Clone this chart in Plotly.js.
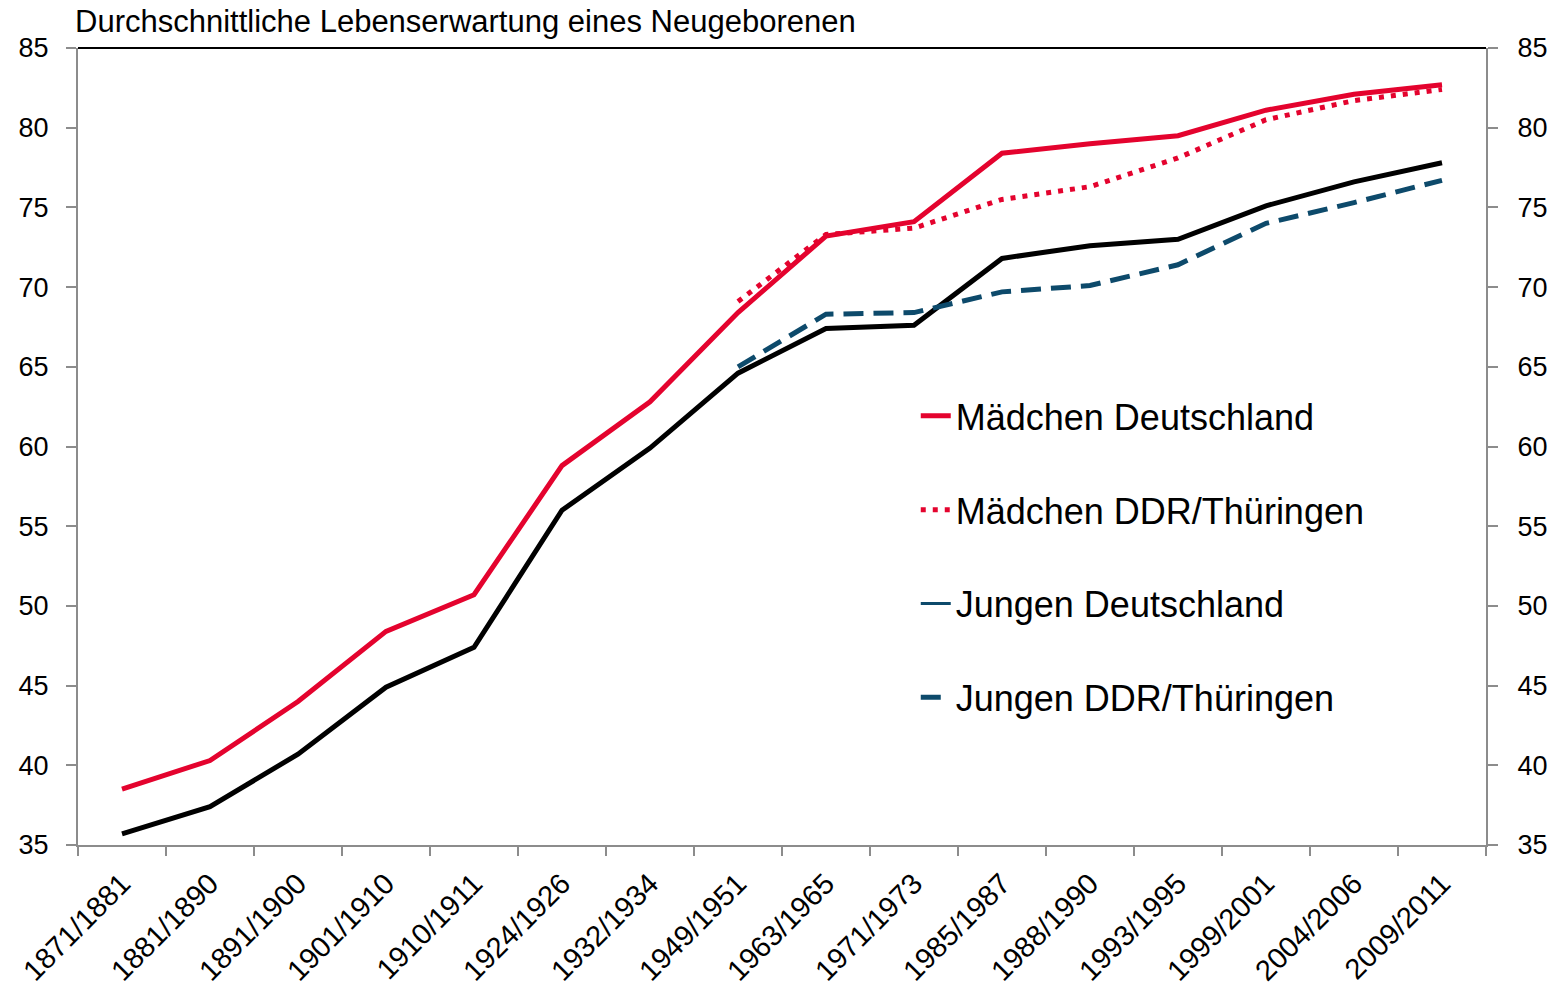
<!DOCTYPE html>
<html>
<head>
<meta charset="utf-8">
<script src="https://cdn.plot.ly/plotly-3.0.1.min.js"></script>
<style>html,body{margin:0;padding:0;background:#fff;}#chart{width:1566px;height:993px;}</style>
</head>
<body>
<div id="chart"></div>
<script>
const categories = ["1871/1881","1881/1890","1891/1900","1901/1910","1910/1911","1924/1926","1932/1934","1949/1951","1963/1965","1971/1973","1985/1987","1988/1990","1993/1995","1999/2001","2004/2006","2009/2011"];
const maedchenDeutschland = [38.5,40.3,44.0,48.4,50.7,58.8,62.8,68.4,73.2,74.1,78.4,79.0,79.5,81.1,82.1,82.7];
const maedchenDDR = [null,null,null,null,null,null,null,69.1,73.3,73.7,75.5,76.3,78.1,80.5,81.7,82.4];
const jungenDeutschland = [35.7,37.4,40.7,44.9,47.4,56.0,59.9,64.6,67.4,67.6,71.8,72.6,73.0,75.1,76.6,77.8];
const jungenDDR = [null,null,null,null,null,null,null,65.0,68.3,68.4,69.7,70.1,71.4,74.0,75.3,76.7];
const seriesNames = ["Mädchen Deutschland","Mädchen DDR/Thüringen","Jungen Deutschland","Jungen DDR/Thüringen"];
const chartTitle = "Durchschnittliche Lebenserwartung eines Neugeborenen";

const RED = "#e4032e";
const NAVY = "#0d4a6b";
const FONT = "Liberation Sans, Arial, sans-serif";

const traces = [
  {x: categories, y: jungenDeutschland, type: "scatter", mode: "lines", name: seriesNames[2],
   line: {color: "#000000", width: 5}, showlegend: false, hoverinfo: "skip"},
  {x: categories, y: jungenDDR, type: "scatter", mode: "lines", name: seriesNames[3],
   line: {color: NAVY, width: 5, dash: "20px,10px"}, legendrank: 4, legendgroup: "d"},
  {x: categories, y: maedchenDeutschland, type: "scatter", mode: "lines", name: seriesNames[0],
   line: {color: RED, width: 5}, legendrank: 1, legendgroup: "a"},
  {x: categories, y: maedchenDDR, type: "scatter", mode: "lines", name: seriesNames[1],
   line: {color: RED, width: 5, dash: "5px,7px"}, legendrank: 2, legendgroup: "b"},
  {x: [null], y: [null], type: "scatter", mode: "lines", name: seriesNames[2],
   line: {color: NAVY, width: 3}, legendrank: 3, legendgroup: "c", hoverinfo: "skip"},
  {x: [null], y: [null], type: "scatter", mode: "lines", yaxis: "y2", showlegend: false, hoverinfo: "skip"}
];

const yFont = {family: FONT, size: 27, color: "#000"};
const xFont = {family: FONT, size: 29, color: "#000"};

const layout = {
  width: 1566, height: 993,
  margin: {l: 78, r: 80, t: 48, b: 148},
  paper_bgcolor: "#fff", plot_bgcolor: "#fff",
  showlegend: true,
  title: {text: chartTitle, x: 75/1566, xanchor: "left", y: 1 - 21/993, yanchor: "middle",
          font: {family: FONT, size: 31, color: "#000"}},
  xaxis: {type: "category", range: [-0.5, 15.5], showgrid: false, zeroline: false,
          showline: true, linecolor: "#8c8c8c", linewidth: 2,
          ticks: "outside", tickson: "boundaries", ticklen: 9, tickcolor: "#8c8c8c", tickwidth: 2,
          tickangle: -45, tickfont: xFont, ticklabelstandoff: 8},
  yaxis: {range: [35, 85], dtick: 5, showgrid: false, zeroline: false,
          showline: true, linecolor: "#8c8c8c", linewidth: 2,
          ticks: "outside", ticklen: 10, tickcolor: "#8c8c8c", tickwidth: 2, tickfont: yFont,
          ticklabelstandoff: 12},
  yaxis2: {range: [35, 85], dtick: 5, overlaying: "y", side: "right", showgrid: false, zeroline: false,
           showline: true, linecolor: "#8c8c8c", linewidth: 2,
           ticks: "outside", ticklen: 10, tickcolor: "#8c8c8c", tickwidth: 2, tickfont: yFont,
           ticklabelstandoff: 14},
  legend: {x: 0.595, xanchor: "left", y: 0.576, yanchor: "top", traceorder: "grouped",
           tracegroupgap: 44, bgcolor: "rgba(0,0,0,0)",
           font: {family: FONT, size: 36, color: "#000"}},
  shapes: [{type: "line", xref: "paper", yref: "paper", x0: 0, x1: 1, y0: 1, y1: 1,
            line: {color: "#000", width: 2}}]
};

Plotly.newPlot("chart", traces, layout, {displayModeBar: false, staticPlot: true});
</script>
</body>
</html>
